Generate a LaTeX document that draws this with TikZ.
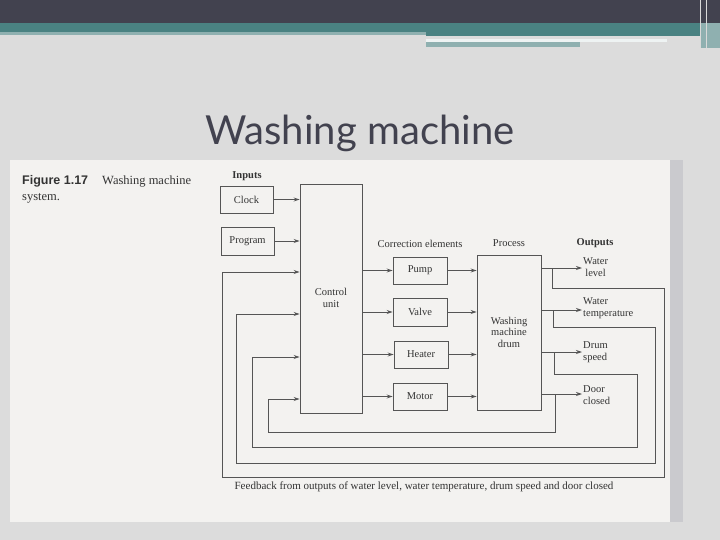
\documentclass[tikz,border=0pt]{standalone}
\usepackage{fontspec}
\setmainfont{Liberation Serif}
\newfontfamily\titlefont{Lato}
\newfontfamily\figfont{Liberation Sans}
\usetikzlibrary{arrows.meta}
\definecolor{hdrdark}{HTML}{42424F}
\definecolor{hdrteal}{HTML}{4A8282}
\definecolor{paleteal}{HTML}{8FB0B0}
\definecolor{slidebg}{HTML}{DCDCDC}
\definecolor{paper}{HTML}{F3F2F0}
\definecolor{pageedge}{HTML}{CACACE}
\definecolor{ink}{HTML}{333333}
\definecolor{wire}{HTML}{555555}

\begin{document}
\begin{tikzpicture}[x=1pt, y=-1pt, >={Stealth[length=6pt,width=4pt]},
	blk/.style={draw=wire, line width=0.9pt, inner sep=0pt, text=ink, font=\fontsize{10.5}{11.5}\selectfont},
	lbl/.style={text=ink, font=\fontsize{10.5}{11.5}\selectfont, inner sep=1pt},
	hdr/.style={text=ink, font=\fontsize{10.5}{11.5}\selectfont\bfseries, inner sep=1pt},
	arr/.style={draw=wire, line width=0.9pt, ->},
	wire/.style={draw=wire, line width=0.9pt}]
	\useasboundingbox (0,0) rectangle (720,540);
	% slide background and header bands
	\fill[slidebg] (0,0) rectangle (720,540);
	\fill[hdrdark] (0,0) rectangle (720,23);
	\fill[hdrteal] (0,23) rectangle (720,32);
	\fill[paleteal] (0,32) rectangle (426,35);
	\fill[hdrteal] (426,32) rectangle (700,36);
	\fill[paleteal] (700,23) rectangle (720,48);
	\fill[white!85!paleteal] (426,39) rectangle (667,42);
	\fill[paleteal] (426,42) rectangle (580,47);
	\draw[white!70!gray, line width=0.8pt] (700,0) -- (700,48);
	\draw[white!70!gray, line width=0.8pt] (706,0) -- (706,48);
	\node[text=hdrdark, font=\titlefont\fontsize{40}{44}\selectfont] (title) at (360,133) {Washing machine};
	% scanned page
	\fill[paper] (10,160) rectangle (683,522);
	\fill[pageedge] (670,160) rectangle (683,522);
	\node[anchor=base west, inner sep=0pt, text=ink, font=\figfont\fontsize{12.5}{13}\selectfont\bfseries] (fignum) at (22,185) {Figure 1.17};
	\node[anchor=base west, inner sep=0pt, text=ink, font=\fontsize{12.5}{13}\selectfont] (figcap) at (102,185) {Washing machine};
	\node[anchor=base west, inner sep=0pt, text=ink, font=\fontsize{12.5}{13}\selectfont] (figcap2) at (22,201) {system.};
	% headings
	\node[hdr] (inputs) at (247,176) {Inputs};
	\node[lbl] (corr) at (420,244) {Correction elements};
	\node[lbl] (process) at (509,243) {Process};
	\node[hdr] (outputs) at (595,243) {Outputs};
	% blocks
	\node[blk, minimum width=53pt, minimum height=27pt] (clock) at (246.5,199.5) {Clock};
	\node[blk, minimum width=53pt, minimum height=28pt] (program) at (247.5,241) {Program};
	\node[blk, minimum width=62pt, minimum height=229pt] (ctrl) at (331,298.5) {};
	\node[lbl, align=center] (ctrltxt) at (331,298) {Control\\unit};
	\node[blk, minimum width=54pt, minimum height=27pt] (pump) at (420,270.5) {Pump};
	\node[blk, minimum width=54pt, minimum height=28pt] (valve) at (420,312) {Valve};
	\node[blk, minimum width=54pt, minimum height=27pt] (heater) at (421,354.5) {Heater};
	\node[blk, minimum width=54pt, minimum height=27pt] (motor) at (420,396.5) {Motor};
	\node[blk, minimum width=64pt, minimum height=155pt] (proc) at (509,332.5) {};
	\node[lbl, align=center] (proctxt) at (509,332) {Washing\\machine\\drum};
	% outputs
	\node[lbl, align=center, anchor=west] (wlvl) at (582,267) {Water\\level};
	\node[lbl, align=left, anchor=west] (wtemp) at (582,308) {Water\\temperature};
	\node[lbl, align=left, anchor=west] (dspeed) at (582,352) {Drum\\speed};
	\node[lbl, align=left, anchor=west] (dclosed) at (582,395) {Door\\closed};
	% forward arrows
	\draw[arr] (clock.east) -- (clock.east -| ctrl.west);
	\draw[arr] (program.east) -- (program.east -| ctrl.west);
	\draw[arr] (pump.west -| ctrl.east) -- (pump.west);
	\draw[arr] (valve.west -| ctrl.east) -- (valve.west);
	\draw[arr] (heater.west -| ctrl.east) -- (heater.west);
	\draw[arr] (motor.west -| ctrl.east) -- (motor.west);
	\draw[arr] (pump.east) -- (pump.east -| proc.west);
	\draw[arr] (valve.east) -- (valve.east -| proc.west);
	\draw[arr] (heater.east) -- (heater.east -| proc.west);
	\draw[arr] (motor.east) -- (motor.east -| proc.west);
	\draw[arr] (proc.east |- 0,268) -- (wlvl.west |- 0,268);
	\draw[arr] (proc.east |- 0,310) -- (wtemp.west |- 0,310);
	\draw[arr] (proc.east |- 0,352) -- (dspeed.west |- 0,352);
	\draw[arr] (proc.east |- 0,394) -- (dclosed.west |- 0,394);
	% feedback loops
	\coordinate (tap1) at (552,268);
	\coordinate (tap2) at (553,310);
	\coordinate (tap3) at (554,352);
	\coordinate (tap4) at (555,394);
	\coordinate (in1) at (222,272);
	\coordinate (in2) at (236,314);
	\coordinate (in3) at (252,357);
	\coordinate (in4) at (268,399);
	\draw[arr] (tap1) |- (664,288) |- (in1 |- 0,477) -- (in1) -- (in1 -| ctrl.west);
	\draw[arr] (tap2) |- (655,327) |- (in2 |- 0,463) -- (in2) -- (in2 -| ctrl.west);
	\draw[arr] (tap3) |- (637,374) |- (in3 |- 0,447) -- (in3) -- (in3 -| ctrl.west);
	\draw[arr] (tap4) |- (in4 |- 0,432) -- (in4) -- (in4 -| ctrl.west);
	\node[lbl, font=\fontsize{11}{12}\selectfont] (fbtxt) at (424,487) {Feedback from outputs of water level, water temperature, drum speed and door closed};
\end{tikzpicture}
\end{document}
